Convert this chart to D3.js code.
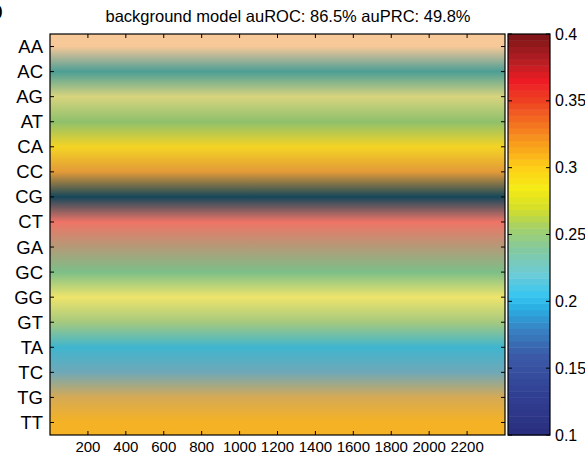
<!DOCTYPE html>
<html>
<head>
<meta charset="utf-8">
<script src="https://cdn.jsdelivr.net/npm/d3@7"></script>
<style>
  body { margin: 0; background: #fff; }
  svg { display: block; font-family: "Liberation Sans", Arial, sans-serif; }
</style>
</head>
<body>
<div id="chart"></div>
<script>
var W = 585, H = 456;

// dinucleotides (rows)
var dinucs = ['AA','AC','AG','AT','CA','CC','CG','CT','GA','GC','GG','GT','TA','TC','TG','TT'];
// mean value per row
var rowValues = [0.330, 0.220, 0.272, 0.255, 0.292, 0.318, 0.115, 0.360, 0.265, 0.245, 0.278, 0.258, 0.200, 0.185, 0.314, 0.308];
var xTicks = [200, 400, 600, 800, 1000, 1200, 1400, 1600, 1800, 2000, 2200];
var xMax = 2400;
var cbTicks = [0.1, 0.15, 0.2, 0.25, 0.3, 0.35, 0.4];
var title = 'background model auROC: 86.5% auPRC: 49.8%';

// colour bar map (vivid)
var cbStops = [0.10, 0.13, 0.16, 0.18, 0.195, 0.205, 0.22, 0.24, 0.255, 0.27, 0.285, 0.30, 0.315, 0.33, 0.35, 0.365, 0.38, 0.40];
var cbColors = ['#2b2e7d','#313f93','#3b5aa7','#3784c4','#2aaee3','#38c6f0','#6ccbd8','#84c99c','#a5d06a','#d5df27','#f5eb16','#fdd017','#f9a51b','#f47b20','#ef4123','#ed1c24','#b51e23','#7a1416'];
// heat map as rendered (muted)
var hmStops = [0.10, 0.115, 0.185, 0.20, 0.22, 0.245, 0.255, 0.258, 0.265, 0.272, 0.278, 0.292, 0.308, 0.314, 0.318, 0.330, 0.360, 0.40];
var hmColors = ['#0f2d3c','#15475a','#6fa8b8','#3fb5cf','#4c9e95','#7cbf88','#8fc06c','#a6c97e','#b49a78','#d8d47e','#eee46c','#f4d424','#f5b224','#d6aa55','#e39a38','#f7c898','#ef7466','#9a2a2a'];

var cbScale = d3.scaleLinear().domain(cbStops).range(cbColors);
var hmScale = d3.scaleLinear().domain(hmStops).range(hmColors);

var m = {left: 50, top: 34, right: 505, bottom: 435};
var cb = {left: 508, right: 550};

var svg = d3.select('#chart').append('svg').attr('width', W).attr('height', H);

var x = d3.scaleLinear().domain([0, xMax]).range([m.left, m.right]);
var y = d3.scaleBand().domain(dinucs).range([m.top, m.bottom]);

// vertical gradient through row centres
var defs = svg.append('defs');
var grad = defs.append('linearGradient').attr('id', 'hm')
    .attr('gradientUnits', 'userSpaceOnUse')
    .attr('x1', 0).attr('x2', 0).attr('y1', m.top).attr('y2', m.bottom);
grad.selectAll('stop').data(dinucs).enter().append('stop')
    .attr('offset', function (d) { return (y(d) + y.bandwidth() / 2 - m.top) / (m.bottom - m.top); })
    .attr('stop-color', function (d, i) { return hmScale(rowValues[i]); });

svg.append('rect')
    .attr('x', m.left).attr('y', m.top)
    .attr('width', m.right - m.left).attr('height', m.bottom - m.top)
    .attr('fill', 'url(#hm)');

// frame
svg.append('rect')
    .attr('x', m.left).attr('y', m.top)
    .attr('width', m.right - m.left).attr('height', m.bottom - m.top)
    .attr('fill', 'none').attr('stroke', '#000').attr('stroke-width', 1.2);

// x ticks (inward, top and bottom)
xTicks.forEach(function (t) {
    svg.append('line').attr('x1', x(t)).attr('x2', x(t)).attr('y1', m.bottom).attr('y2', m.bottom - 4).attr('stroke', '#000');
    svg.append('line').attr('x1', x(t)).attr('x2', x(t)).attr('y1', m.top).attr('y2', m.top + 4).attr('stroke', '#000');
});
svg.selectAll('.xl').data(xTicks).enter().append('text')
    .attr('x', function (d) { return x(d); })
    .attr('y', 452)
    .attr('text-anchor', 'middle')
    .attr('font-size', 15)
    .text(function (d) { return d; });

// y ticks and labels
dinucs.forEach(function (d) {
    var yy = y(d) + y.bandwidth() / 2;
    svg.append('line').attr('x1', m.left).attr('x2', m.left + 4).attr('y1', yy).attr('y2', yy).attr('stroke', '#000');
    svg.append('line').attr('x1', m.right).attr('x2', m.right - 4).attr('y1', yy).attr('y2', yy).attr('stroke', '#000');
});
svg.selectAll('.yl').data(dinucs).enter().append('text')
    .attr('x', 43)
    .attr('y', function (d) { return y(d) + y.bandwidth() / 2 + 6.5; })
    .attr('text-anchor', 'end')
    .attr('font-size', 18.5)
    .text(function (d) { return d; });

// title
svg.append('text').attr('x', 288).attr('y', 22).attr('text-anchor', 'middle')
    .attr('font-size', 16.5).text(title);

// panel letter cut off at the corner
svg.append('text').attr('x', -13).attr('y', 19).attr('font-size', 26).attr('font-weight', 'bold').text('b');

// colour bar, stepped in 64 levels
var cy = d3.scaleLinear().domain([0.1, 0.4]).range([m.bottom, m.top]);
var nLev = 64;
var levels = d3.range(nLev);
svg.selectAll('.cb').data(levels).enter().append('rect')
    .attr('x', cb.left)
    .attr('width', cb.right - cb.left)
    .attr('y', function (i) { return cy(0.1 + (i + 1) * 0.3 / nLev); })
    .attr('height', function (i) { return cy(0.1 + i * 0.3 / nLev) - cy(0.1 + (i + 1) * 0.3 / nLev) + 0.5; })
    .attr('fill', function (i) { return cbScale(0.1 + (i + 0.5) * 0.3 / nLev); });
svg.append('rect')
    .attr('x', cb.left).attr('y', m.top)
    .attr('width', cb.right - cb.left).attr('height', m.bottom - m.top)
    .attr('fill', 'none').attr('stroke', '#000').attr('stroke-width', 1.2);
cbTicks.forEach(function (t) {
    svg.append('line').attr('x1', cb.left).attr('x2', cb.left + 4).attr('y1', cy(t)).attr('y2', cy(t)).attr('stroke', '#000');
    svg.append('line').attr('x1', cb.right).attr('x2', cb.right - 4).attr('y1', cy(t)).attr('y2', cy(t)).attr('stroke', '#000');
});
svg.selectAll('.cl').data(cbTicks).enter().append('text')
    .attr('x', 555)
    .attr('y', function (d) { return cy(d) + 5.5; })
    .attr('font-size', 16)
    .text(function (d) { return d; });
</script>
</body>
</html>
